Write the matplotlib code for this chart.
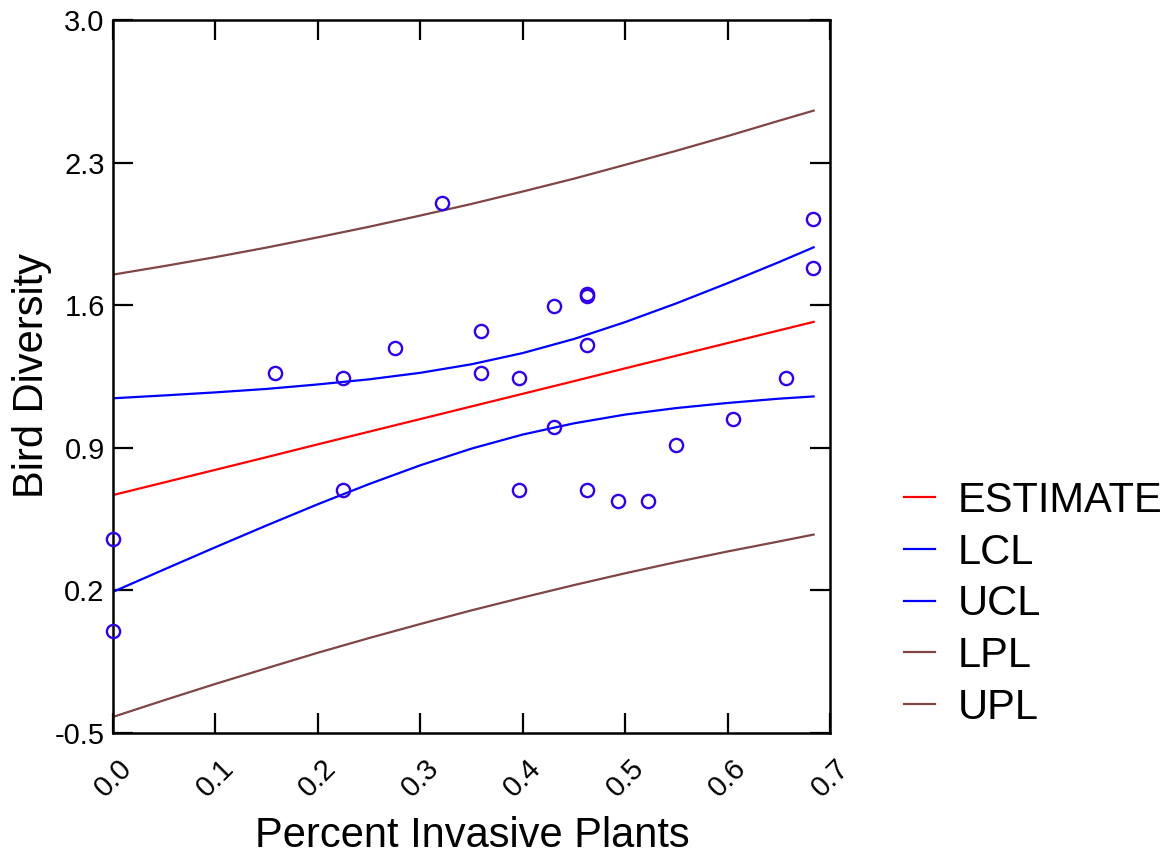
import matplotlib.pyplot as plt

plt.rcParams['font.family'] = ['Liberation Sans', 'DejaVu Sans']

# observed data
pct_invasive = [0.0, 0.0, 0.158, 0.225, 0.225, 0.275, 0.321, 0.359, 0.359,
                0.396, 0.396, 0.431, 0.431, 0.463, 0.463, 0.463, 0.463,
                0.493, 0.522, 0.550, 0.605, 0.657, 0.683, 0.683]
bird_div = [0.451, 0.0, 1.266, 1.244, 0.693, 1.388, 2.103, 1.472, 1.266,
            1.244, 0.693, 1.597, 1.003, 1.655, 1.645, 1.405, 0.693,
            0.639, 0.639, 0.912, 1.040, 1.242, 2.023, 1.781]

# fitted curves
curve_x = [0.0, 0.05, 0.1, 0.15, 0.2, 0.25, 0.3, 0.35, 0.4, 0.45, 0.5,
           0.55, 0.6, 0.65, 0.684]
estimate = [0.668, 0.730, 0.792, 0.854, 0.917, 0.979, 1.041, 1.103, 1.165,
            1.227, 1.290, 1.352, 1.414, 1.476, 1.518]
lcl = [0.193, 0.303, 0.412, 0.519, 0.623, 0.722, 0.814, 0.896, 0.965,
       1.020, 1.063, 1.095, 1.120, 1.141, 1.152]
ucl = [1.143, 1.157, 1.172, 1.189, 1.211, 1.236, 1.268, 1.310, 1.365,
       1.434, 1.517, 1.609, 1.708, 1.811, 1.884]
lpl = [-0.421, -0.339, -0.259, -0.182, -0.106, -0.034, 0.035, 0.102, 0.165,
       0.226, 0.284, 0.339, 0.391, 0.440, 0.474]
upl = [1.750, 1.792, 1.836, 1.883, 1.933, 1.985, 2.040, 2.097, 2.158,
       2.221, 2.289, 2.358, 2.430, 2.505, 2.555]

x_ticks = [0.0, 0.1, 0.2, 0.3, 0.4, 0.5, 0.6, 0.7]
y_ticks = [-0.5, 0.2, 0.9, 1.6, 2.3, 3.0]

brown = '#804545'

fig = plt.figure(figsize=(11.75, 8.57), dpi=100)
ax = fig.add_axes([0.0962, 0.1447, 0.6102, 0.832])

ax.plot(curve_x, estimate, color='#FF0000', lw=1.6, label='ESTIMATE')
ax.plot(curve_x, lcl, color='#0000FF', lw=1.6, label='LCL')
ax.plot(curve_x, ucl, color='#0000FF', lw=1.6, label='UCL')
ax.plot(curve_x, lpl, color=brown, lw=1.6, label='LPL')
ax.plot(curve_x, upl, color=brown, lw=1.6, label='UPL')
ax.plot(pct_invasive, bird_div, 'o', mfc='none', mec='#3000E8', ms=9.5,
        mew=1.7, clip_on=False, zorder=5)

ax.set_xlim(0, 0.7)
ax.set_ylim(-0.5, 3.0)
ax.set_xticks(x_ticks)
ax.set_xticklabels([f'{v:.1f}' for v in x_ticks], rotation=45, ha='center',
                   va='top')
ax.set_yticks(y_ticks)
ax.set_yticklabels([f'{v:.1f}' for v in y_ticks])
ax.tick_params(direction='in', length=14.5, width=1.6, top=True, right=True)
ax.tick_params(axis='y', labelsize=21, pad=6)
ax.tick_params(axis='x', labelsize=21, pad=15)
for s in ax.spines.values():
    s.set_linewidth(1.8)

ax.set_xlabel('Percent Invasive Plants', fontsize=30)
ax.set_ylabel('Bird Diversity', fontsize=30)
ax.xaxis.set_label_coords(0.5007, -0.1164)
ax.yaxis.set_label_coords(-0.0851, 0.502)

fig.legend(loc='center left', bbox_to_anchor=(0.769, 0.295), frameon=False,
           fontsize=30, handlelength=0.75, handletextpad=0.55,
           labelspacing=0.28, borderpad=0, borderaxespad=0)

fig.savefig('out.png', dpi=100)
